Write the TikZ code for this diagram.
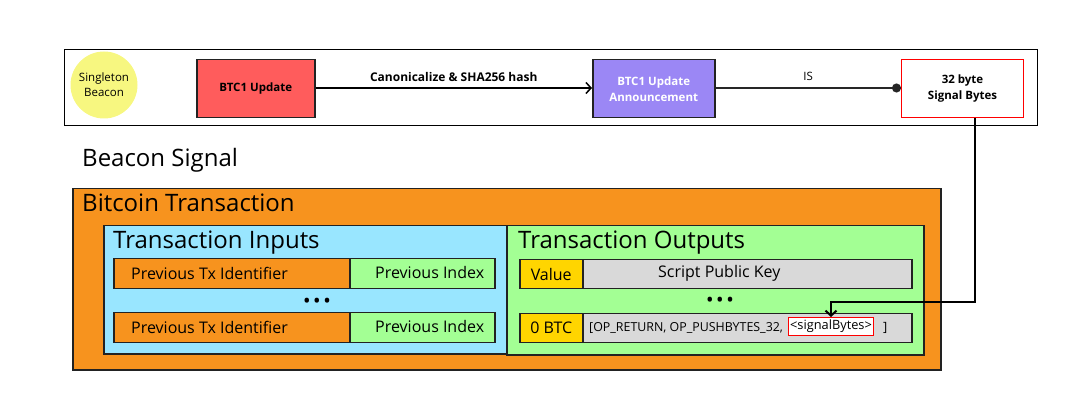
\documentclass[tikz,border=0pt]{standalone}
\usepackage{fontspec}
\setmainfont{Open Sans}
\usetikzlibrary{arrows.meta,calc}
\definecolor{cOrange}{HTML}{F7931E}
\definecolor{cBlue}{HTML}{99E6FF}
\definecolor{cGreen}{HTML}{A3FF94}
\definecolor{cYellow}{HTML}{FFD500}
\definecolor{cGray}{HTML}{D9D9D9}
\definecolor{cRed}{HTML}{FF5C5C}
\definecolor{cPurple}{HTML}{9B87F5}
\definecolor{cCircle}{HTML}{F7F780}
\definecolor{cBorder}{HTML}{222222}
\tikzset{
  box/.style={draw=cBorder, line width=1.5pt, anchor=north west, inner sep=0pt, align=center},
  rowtxt/.style={font=\fontsize{16}{18}\selectfont},
  lbl/.style={font=\fontsize{16}{18}\selectfont, anchor=west, inner sep=0pt},
  title/.style={font=\fontsize{24}{28}\selectfont, anchor=west, inner sep=0pt},
  toplbl/.style={font=\bfseries\fontsize{12}{14}\selectfont},
  dots/.style={font=\bfseries\fontsize{16}{16}\selectfont, inner sep=0pt}
}
\begin{document}
\begin{tikzpicture}[x=1pt,y=-1pt]
\useasboundingbox (0,0) rectangle (1088,406);
% top frame
\node[draw=black, line width=1pt, anchor=north west, minimum width=973pt, minimum height=76pt, inner sep=0pt] (frame) at (64,49) {};
\node[circle, fill=cCircle, minimum size=67pt, inner sep=0pt, align=center, font=\fontsize{11.5}{15}\selectfont] (beacon) at (104,85) {Singleton\\Beacon};
\node[box, fill=cRed, minimum width=118pt, minimum height=58pt, font=\bfseries\fontsize{11.5}{14}\selectfont] (upd) at (196,59) {BTC1 Update};
\node[box, fill=cPurple, minimum width=122pt, minimum height=58pt, text=white, font=\bfseries\fontsize{11.5}{16}\selectfont] (ann) at (592,59) {BTC1 Update\\Announcement};
\node[box, draw=red, fill=white, line width=1pt, minimum width=122pt, minimum height=58pt, font=\bfseries\fontsize{11.5}{16}\selectfont] (sig) at (901,59) {32 byte\\Signal Bytes};
\draw[line width=1.5pt, -{Straight Barb[length=5pt,width=11pt]}] (upd.east |- 0,88) -- node[above=2pt, toplbl]{Canonicalize \& SHA256 hash} (ann.west |- 0,88);
\draw[line width=1.5pt, draw=black!85, -{Circle[length=9pt]}] (ann.east |- 0,88) -- node[above=3pt, font=\fontsize{11.5}{14}\selectfont]{IS} (sig.west |- 0,88);
% beacon signal
\node[title] (bs) at (82,160) {Beacon Signal};
\node[box, fill=cOrange, minimum width=868pt, minimum height=181pt] (tx) at (72,188) {};
\node[title] (txt) at (82,203) {Bitcoin Transaction};
% inputs
\node[box, fill=cBlue, minimum width=403pt, minimum height=128pt] (inp) at (103,225) {};
\node[title] (inpt) at (113,243) {Transaction Inputs};
\node[box, fill=cOrange, minimum width=236pt, minimum height=30pt] (pid1) at (113,258) {};
\node[lbl] (pid1t) at (131,273) {Previous Tx Identifier};
\node[box, fill=cGreen, minimum width=145pt, minimum height=30pt] (pix1) at (349,258) {};
\node[lbl] (pix1t) at (375,273) {Previous Index};
\node[dots] (d1) at (317,302) {• • •};
\node[box, fill=cOrange, minimum width=236pt, minimum height=30pt] (pid2) at (113,312) {};
\node[lbl] (pid2t) at (131,327) {Previous Tx Identifier};
\node[box, fill=cGreen, minimum width=145pt, minimum height=30pt] (pix2) at (349,312) {};
\node[lbl] (pix2t) at (375,327) {Previous Index};
% outputs
\node[box, fill=cGreen, minimum width=417pt, minimum height=129pt] (out) at (506,225) {};
\node[title] (outt) at (518,243) {Transaction Outputs};
\node[box, fill=cYellow, minimum width=63pt, minimum height=29pt, rowtxt] (val) at (519,259) {Value};
\node[box, fill=cGray, minimum width=329pt, minimum height=29pt] (spk) at (582,259) {};
\node[lbl] (spkt) at (658,273.5) {Script Public Key};
\node[dots] (d2) at (720,301) {• • •};
\node[box, fill=cYellow, minimum width=63pt, minimum height=29pt, rowtxt] (zero) at (519,313) {0 BTC};
\node[box, fill=cGray, minimum width=329pt, minimum height=29pt] (op) at (582,313) {};
\node[anchor=west, inner sep=0pt, font=\fontsize{12.4}{14}\selectfont] (optxt) at (589,327.5) {[OP\_RETURN, OP\_PUSHBYTES\_32,};
\node[draw=red, fill=white, line width=1pt, anchor=north west, minimum width=85pt, minimum height=18pt, inner sep=0pt, font=\fontsize{12.8}{14}\selectfont] (sb) at (788,317) {<signalBytes>};
\node[anchor=west, inner sep=0pt, font=\fontsize{12.8}{14}\selectfont] (cl) at (883,327.5) {]};
% connector
\draw[line width=2pt, -{Straight Barb[length=5pt,width=11pt]}] ([xshift=12pt]sig.south) |- ([yshift=15pt]sb.north) -- (sb.north);
\end{tikzpicture}
\end{document}
